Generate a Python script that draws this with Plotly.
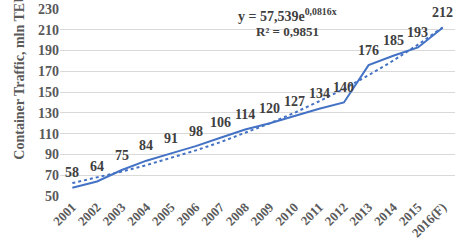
import numpy as np
import plotly.graph_objects as go

years = ["2001","2002","2003","2004","2005","2006","2007","2008","2009","2010","2011","2012","2013","2014","2015","2016(F)"]
traffic = [58, 64, 75, 84, 91, 98, 106, 114, 120, 127, 134, 140, 176, 185, 193, 212]
trend_a = 57.539
trend_b = 0.0816

idx = np.arange(1, len(years) + 1)
trend = trend_a * np.exp(trend_b * idx)

SERIF = "Liberation Serif, Times New Roman, serif"
blue = "#4472C4"

fig = go.Figure()
fig.add_trace(go.Scatter(x=years, y=trend, mode="lines",
                         line=dict(color=blue, width=2, dash="dot"),
                         hoverinfo="skip", showlegend=False))
fig.add_trace(go.Scatter(x=years, y=traffic, mode="lines",
                         line=dict(color=blue, width=2), showlegend=False))

label_font = dict(family=SERIF, size=14, color="#404040", weight="bold")
annotations = [
    dict(x=i, y=v, xref="x", yref="y", text=str(v), showarrow=False,
         yshift=15, font=label_font)
    for i, v in enumerate(traffic)
]
annotations += [
    dict(text="Container Traffic, mln TEU", textangle=-90, xref="paper", yref="paper",
         x=-0.127, y=0.64, showarrow=False,
         font=dict(family=SERIF, size=14, color="#595959", weight="bold")),
    dict(text="y = 57,539e<sup>0,0816x</sup>", xref="paper", yref="paper",
         x=0.577, y=1.0, yanchor="middle", yshift=-6, showarrow=False,
         font=dict(family=SERIF, size=14, color="#404040", weight="bold")),
    dict(text="R² = 0,9851", xref="paper", yref="paper",
         x=0.577, y=1.0, yanchor="middle", yshift=-22, showarrow=False,
         font=dict(family=SERIF, size=13, color="#404040", weight="bold")),
]

fig.update_layout(
    width=457, height=242,
    margin=dict(l=60, r=2, t=8, b=45),
    paper_bgcolor="white", plot_bgcolor="white",
    xaxis=dict(type="category", range=[-0.5, len(years) - 0.5], tickangle=-45,
               showgrid=False, showline=False, ticks="",
               tickfont=dict(family=SERIF, size=13, color="#595959", weight="bold")),
    yaxis=dict(range=[50, 230], dtick=20, tick0=50, showgrid=True, gridcolor="#D9D9D9",
               gridwidth=1, zeroline=False, showline=False, ticks="",
               tickfont=dict(family=SERIF, size=14, color="#595959", weight="bold")),
    annotations=annotations,
)

fig.write_html("out.html")
